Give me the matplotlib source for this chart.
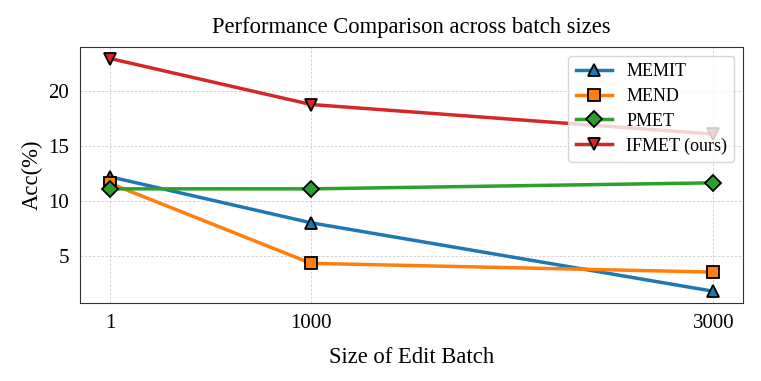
import matplotlib.pyplot as plt

plt.rcParams['font.family'] = ['Liberation Serif', 'DejaVu Serif']

batch_sizes = [1, 1000, 3000]
memit = [12.2, 8.0, 1.75]
mend = [11.6, 4.3, 3.5]
pmet = [11.1, 11.1, 11.65]
ifmet = [23.0, 18.8, 16.1]

fig, ax = plt.subplots(figsize=(7.61, 3.81), dpi=100)

style = dict(linewidth=2.5, markersize=8, markeredgecolor='black', markeredgewidth=1.3)
ax.plot(batch_sizes, memit, marker='^', color='#1f77b4', label='MEMIT', **style)
ax.plot(batch_sizes, mend, marker='s', color='#ff7f0e', label='MEND', **style)
ax.plot(batch_sizes, pmet, marker='D', color='#2ca02c', label='PMET', **style)
ax.plot(batch_sizes, ifmet, marker='v', color='#d62728', label='IFMET (ours)', **style)

ax.set_xticks(batch_sizes)
ax.set_xticklabels([str(b) for b in batch_sizes])
ax.tick_params(axis='both', length=0, labelsize=15, pad=8)
ax.grid(True, linestyle=(0, (3, 2)), color='#cccccc', linewidth=0.6)

for s in ax.spines.values():
    s.set_color('#333333')

ax.set_title('Performance Comparison across batch sizes', fontsize=16.3, pad=10)
ax.set_xlabel('Size of Edit Batch', fontsize=16.3, labelpad=10)
ax.set_ylabel('Acc(%)', fontsize=16.3)
ax.legend(loc='upper right', fontsize=13, handlelength=2.0, labelspacing=0.43)

fig.subplots_adjust(left=0.105, right=0.977, top=0.877, bottom=0.205)
fig.savefig('out.png', dpi=100)
